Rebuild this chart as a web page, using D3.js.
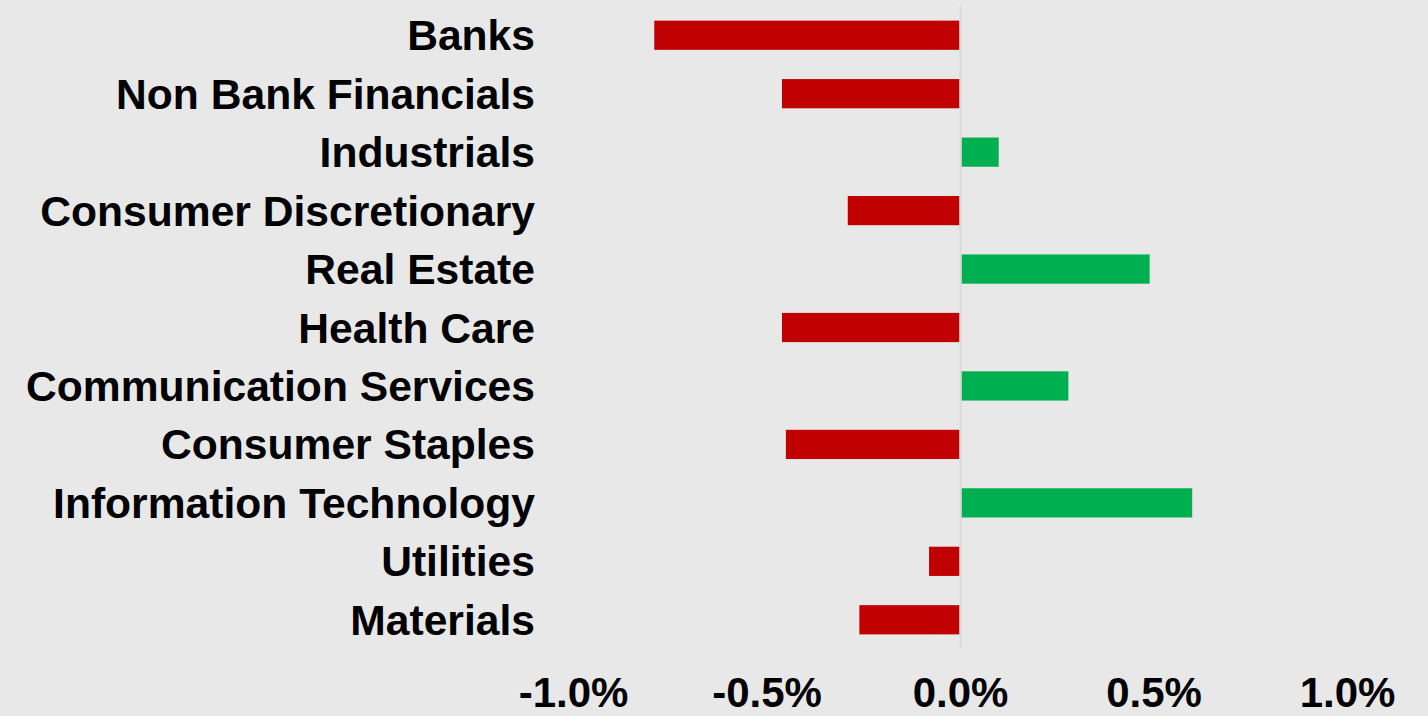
<!DOCTYPE html>
<html>
<head>
<meta charset="utf-8">
<script src="https://cdn.jsdelivr.net/npm/d3@7"></script>
<style>
  html, body { margin: 0; padding: 0; background: #e8e8e8; overflow: hidden; }
  svg { display: block; }
  text { font-family: "Liberation Sans", Arial, sans-serif; font-weight: bold; fill: #000; }
</style>
</head>
<body>
<svg width="1428" height="716"></svg>
<script>
// sector names, top to bottom
var sectors = ["Banks", "Non Bank Financials", "Industrials", "Consumer Discretionary",
  "Real Estate", "Health Care", "Communication Services", "Consumer Staples",
  "Information Technology", "Utilities", "Materials"];

// change, in percent
var changes = [-0.79, -0.46, 0.10, -0.29, 0.49, -0.46, 0.28, -0.45, 0.60, -0.08, -0.26];

var tickValues = [-1.0, -0.5, 0.0, 0.5, 1.0];

var svg = d3.select("svg"),
    width = +svg.attr("width"),
    height = +svg.attr("height");

var x = d3.scaleLinear()
    .domain([-1, 1])
    .range([573, 1347]);

var y = d3.scaleBand()
    .domain(sectors)
    .range([6, 649])
    .paddingInner(0.5)
    .paddingOuter(0.25);

var rows = sectors.map(function(s, i) { return { name: s, value: changes[i] }; });

// bars
svg.append("g")
    .attr("class", "bars")
  .selectAll("rect")
  .data(rows)
  .enter().append("rect")
    .attr("x", function(d) { return d.value < 0 ? x(d.value) : x(0) + 1.5; })
    .attr("y", function(d) { return y(d.name); })
    .attr("width", function(d) { return Math.abs(x(d.value) - x(0)) - (d.value < 0 ? 0.5 : 1.5); })
    .attr("height", y.bandwidth())
    .attr("fill", function(d) { return d.value < 0 ? "#c00000" : "#00b050"; });

// zero line
svg.append("line")
    .attr("x1", x(0) + 0.5).attr("x2", x(0) + 0.5)
    .attr("y1", 6).attr("y2", 648)
    .attr("stroke", "#d9d9d9")
    .attr("stroke-width", 2);

// category labels
svg.append("g")
    .attr("class", "labels")
  .selectAll("text")
  .data(sectors)
  .enter().append("text")
    .attr("x", 535)
    .attr("y", function(d) { return y(d) + y.bandwidth() / 2 + 15; })
    .attr("text-anchor", "end")
    .style("font-size", "42.6px")
    .text(function(d) { return d; });

// x axis tick labels (plain hyphen for the minus, as in the original)
var xAxis = d3.axisBottom(x)
    .tickValues(tickValues)
    .tickSize(0)
    .tickPadding(0)
    .tickFormat(function(d) { return d3.format(".1f")(d).replace("\u2212", "-") + "%"; });

var gx = svg.append("g")
    .attr("transform", "translate(0,707)")
    .call(xAxis);
gx.select(".domain").remove();
gx.selectAll("text")
    .attr("dy", 0)
    .attr("y", 0)
    .style("font-size", "42px")
    .style("font-family", "'Liberation Sans', Arial, sans-serif")
    .style("font-weight", "bold")
    .attr("fill", "#000");
</script>
</body>
</html>
